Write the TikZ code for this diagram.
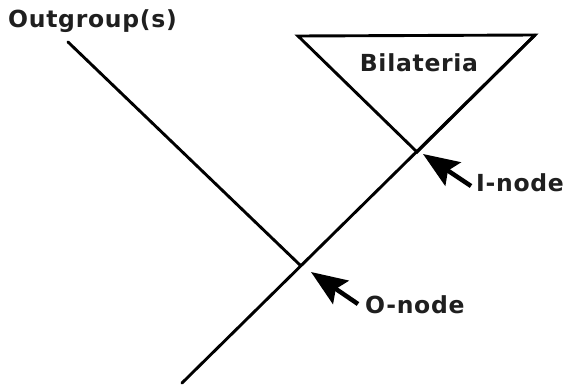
\documentclass[tikz,border=0pt]{standalone}
\usepackage{fontspec}
\setmainfont{DejaVu Sans}[LetterSpace=3]
\usetikzlibrary{arrows.meta}
\begin{document}
\begin{tikzpicture}[x=1pt,y=-1pt,
  branch/.style={line width=2.9pt, line cap=round, line join=miter},
  pointer/.style={line width=4.5pt, -{Stealth[length=36pt,width=28pt,inset=6pt]}},
  lbl/.style={font=\fontsize{23.5}{27}\selectfont\bfseries, inner sep=0pt, text=black!88}]
\useasboundingbox (0,0) rectangle (565,385);
% tree points
\coordinate (root) at (182,383);
\coordinate (top) at (535,35);
\coordinate (onode) at (300,265);
\coordinate (inode) at (417,152);
\coordinate (out) at (68,42);
\coordinate (tl) at (298,36);
% branches
\draw[branch] (root) -- (top);
\draw[branch] (out) -- (onode);
\draw[branch] (tl) -- (top) -- (inode) -- cycle;
% labels
\node[lbl, anchor=base west] (outg) at (8,28) {Outgroup(s)};
\node[lbl, anchor=base] (bil) at (419,72) {Bilateria};
\node[lbl, anchor=base west] (olab) at (365,313) {O-node};
\node[lbl, anchor=base west] (ilab) at (476,191) {I-node};
% pointers
\coordinate (otip) at (311,272);
\coordinate (otail) at (358,304);
\coordinate (itip) at (423,154);
\coordinate (itail) at (471,186);
\draw[pointer] (otail) -- (otip);
\draw[pointer] (itail) -- (itip);
\end{tikzpicture}
\end{document}
